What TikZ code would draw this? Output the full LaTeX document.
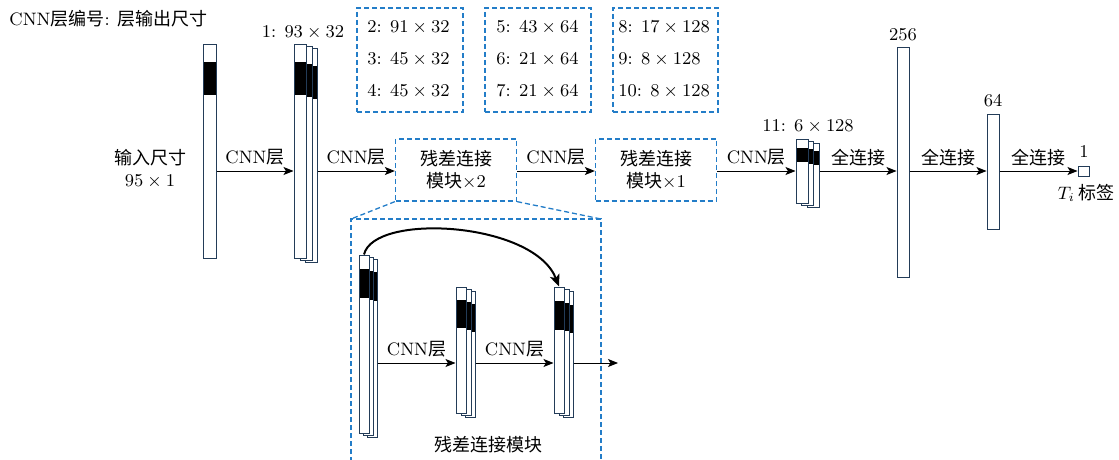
\documentclass[tikz,border=0pt]{standalone}
\usepackage{fontspec}
\newfontfamily\cjk{Noto Sans CJK SC}
\usetikzlibrary{arrows.meta,fit}
\definecolor{barc}{RGB}{35,60,88}
\definecolor{dblue}{RGB}{35,125,200}
\newcommand\zh[1]{{\cjk #1}}
\newcommand\cnnbar[7]{%
  \node[bar,fit={(#2,#3) (#4,#5)}] (#1) {};
  \fill[black] (#2+0.5,#6) rectangle (#4-0.5,#7);}
\newcommand\plainbar[5]{\node[bar,fit={(#2,#3) (#4,#5)}] (#1) {};}
\begin{document}
\begin{tikzpicture}[x=0.5pt,y=-0.5pt, font=\fontsize{9}{11}\selectfont,
  bar/.style={draw=barc, line width=0.5pt, fill=white, inner sep=0pt},
  arr/.style={-{Stealth[length=5pt,width=4pt,inset=1.2pt]}, line width=0.5pt},
  dbox/.style={draw=dblue, dash pattern=on 2.5pt off 1.5pt, line width=0.65pt},
  lbl/.style={above, inner sep=2.5pt},
  txt/.style={anchor=west, inner sep=0pt}]
\useasboundingbox (0,0) rectangle (1119,460);

\node[anchor=west, inner sep=0pt] (title) at (9,19) {CNN\zh{层编号}: \zh{层输出尺寸}};
\node[align=center] (inlbl) at (150,169) {\zh{输入尺寸}\\$95\times1$};

% input
\cnnbar{in}{203}{45}{216}{258}{62}{95}
% layer 1
\cnnbar{l1c}{305}{49}{317}{262}{66}{99}
\cnnbar{l1b}{300}{47}{312}{260}{64}{97}
\cnnbar{l1a}{294}{45}{306}{258}{62}{95}
\node (l1lbl) at (303,32) {1: $93\times32$};

% top info boxes
\node[dbox, fit={(357,8) (463,112)}, inner sep=0pt] (ba) {};
\node[txt] (t2) at (367,27) {2: $91\times32$};
\node[txt] (t3) at (367,59) {3: $45\times32$};
\node[txt] (t4) at (367,91) {4: $45\times32$};
\node[dbox, fit={(485,8) (591,112)}, inner sep=0pt] (bb) {};
\node[txt] (t5) at (496,27) {5: $43\times64$};
\node[txt] (t6) at (496,59) {6: $21\times64$};
\node[txt] (t7) at (496,91) {7: $21\times64$};
\node[dbox, fit={(613,8) (718,112)}, inner sep=0pt] (bc) {};
\node[txt] (t8) at (618,27) {8: $17\times128$};
\node[txt] (t9) at (618,59) {9: $8\times128$};
\node[txt] (t10) at (618,91) {10: $8\times128$};

% residual boxes
\node[dbox, minimum width=60.5pt, minimum height=31pt, align=center] (r1) at (456,170) {\zh{残差连接}\\\zh{模块}$\times$2};
\node[dbox, minimum width=60.5pt, minimum height=31pt, align=center] (r2) at (656,170) {\zh{残差连接}\\\zh{模块}$\times$1};

% layer 11
\cnnbar{l11c}{807}{144}{819}{207}{151}{165}
\cnnbar{l11b}{801}{142}{813}{205}{149.5}{163.5}
\cnnbar{l11a}{796}{140}{808}{203}{148}{162}
\node (l11lbl) at (808,126) {11: $6\times128$};

% fully connected
\plainbar{fc1}{897}{48}{909}{277}
\node (fc1lbl) at (903,35) {256};
\plainbar{fc2}{987}{115}{999}{229}
\node (fc2lbl) at (993,101) {64};
\plainbar{out}{1078}{166}{1089}{176}
\node (outlbl) at (1084,152) {1};
\node (tlbl) at (1086,193) {$T_i$\,\zh{标签}};

% main row arrows
\coordinate (row) at (0,171);
\draw[arr] (in.east |- row) -- node[lbl]{CNN\zh{层}} (l1a.west |- row);
\draw[arr] (l1c.east |- row) -- node[lbl]{CNN\zh{层}} (r1.west |- row);
\draw[arr] (r1.east |- row) -- node[lbl]{CNN\zh{层}} (r2.west |- row);
\draw[arr] (r2.east |- row) -- node[lbl]{CNN\zh{层}} (l11a.west |- row);
\draw[arr] (l11c.east |- row) -- node[lbl]{\zh{全连接}} (fc1.west |- row);
\draw[arr] (fc1.east |- row) -- node[lbl]{\zh{全连接}} (fc2.west |- row);
\draw[arr] (fc2.east |- row) -- node[lbl]{\zh{全连接}} (out.west |- row);

% expanded residual block
\coordinate (bl) at (351,219);
\coordinate (br) at (601,219);
\coordinate (bbl) at (351,462);
\coordinate (bbr) at (601,462);
\draw[dbox] (bbl) -- (bl) -- (br) -- (bbr);
\draw[dbox] (r1.south west) -- (bl);
\draw[dbox] (r1.south east) -- (br);

\cnnbar{s1c}{367}{259}{377}{437}{272}{301}
\cnnbar{s1b}{363}{257}{373}{435}{270.5}{299.5}
\cnnbar{s1a}{359}{255}{369}{433}{269}{298}

\cnnbar{s2c}{465}{291}{475}{417}{304}{332}
\cnnbar{s2b}{461}{289}{471}{415}{302}{330}
\cnnbar{s2a}{456}{287}{466}{413}{300}{328}

\cnnbar{s3c}{563}{291}{573}{417}{305}{333}
\cnnbar{s3b}{559}{289}{569}{415}{303}{331}
\cnnbar{s3a}{554}{287}{564}{413}{301}{330}

\coordinate (row2) at (0,363);
\coordinate (sout) at (618,363);
\draw[arr] (s1c.east |- row2) -- node[lbl]{CNN\zh{层}} (s2a.west |- row2);
\draw[arr] (s2c.east |- row2) -- node[lbl]{CNN\zh{层}} (s3a.west |- row2);
\draw[arr] (s3c.east |- row2) -- (sout);
\draw[-{Stealth[length=6pt,width=5pt,inset=1.5pt]}, line width=1pt]
  (s1a.north) .. controls +(10,-42) and +(-25,-65) .. (s3a.north);

\node (reslbl) at (488,445) {\zh{残差连接模块}};
\end{tikzpicture}
\end{document}
